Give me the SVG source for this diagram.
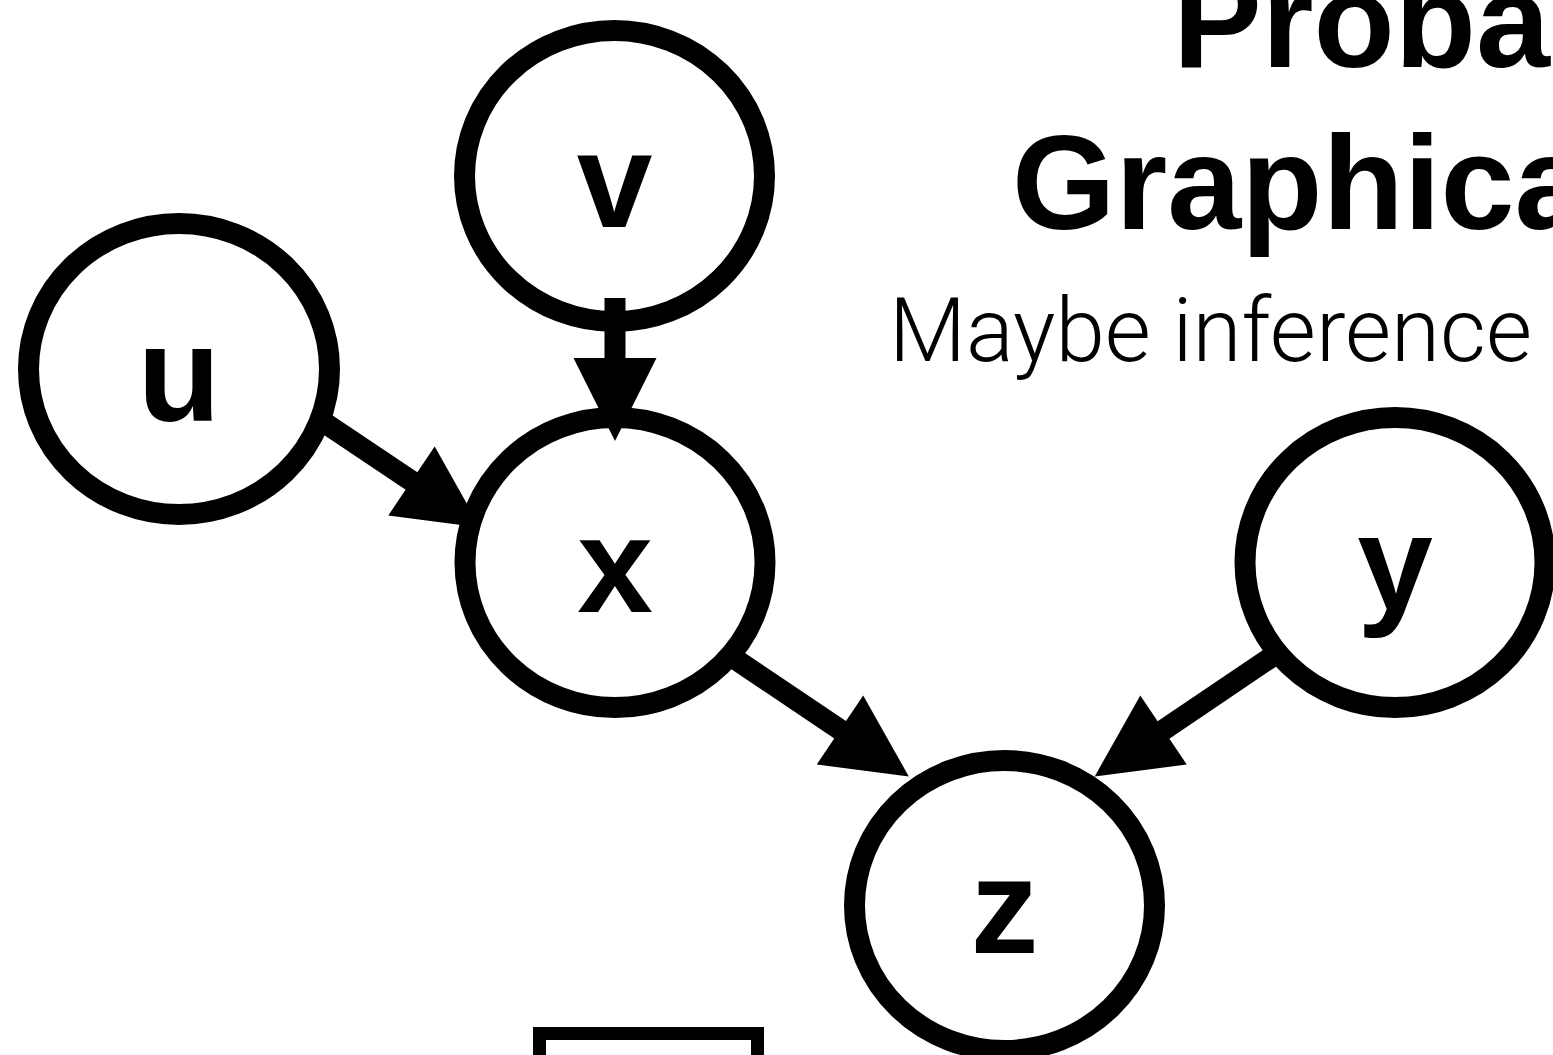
<svg xmlns="http://www.w3.org/2000/svg" width="1553" height="1055" viewBox="0 0 1553 1055">
  <style>
    .node ellipse { fill: #ffffff; stroke: #000000; stroke-width: 21; }
    .node text { font-family: "Liberation Sans", Arial, sans-serif; font-weight: bold; font-size: 136px; text-anchor: middle; fill: #000000; }
    .edge line { stroke: #000000; stroke-width: 21; stroke-linecap: butt; }
    .edge polygon { fill: #000000; }
    .title { font-family: "Liberation Sans", Arial, sans-serif; font-weight: bold; font-size: 133px; fill: #000000; }
    .subtitle { font-family: Roboto, "Liberation Sans", sans-serif; font-weight: 300; font-size: 89px; fill: #000000; }
  </style>
  <rect x="0" y="0" width="1553" height="1055" fill="#ffffff"/>
  <g id="title">
    <text class="title" x="1173" y="67">Probabilistic</text>
    <text class="title" x="1012" y="229">Graphical Models</text>
    <text class="subtitle" x="889" y="361">Maybe inference</text>
  </g>
  <g id="node-v" class="node">
    <ellipse cx="614.5" cy="176" rx="150" ry="145.5"/>
    <text x="614.5" y="227">v</text>
  </g>
  <g id="node-u" class="node">
    <ellipse cx="179" cy="369" rx="150.5" ry="145.5"/>
    <text x="179" y="421">u</text>
  </g>
  <g id="node-x" class="node">
    <ellipse cx="615" cy="562.5" rx="150" ry="145"/>
    <text x="615" y="612">x</text>
  </g>
  <g id="node-y" class="node">
    <ellipse cx="1395" cy="562.5" rx="150" ry="145"/>
    <text x="1395" y="610">y</text>
  </g>
  <g id="node-z" class="node">
    <ellipse cx="1004.5" cy="905.5" rx="150" ry="145"/>
    <text x="1004.5" y="953">z</text>
  </g>
  <g id="frame">
    <rect x="539.5" y="1033.5" width="218" height="100" fill="none" stroke="#000000" stroke-width="13"/>
  </g>
  <g id="connectors" class="edge">
    <line x1="615" y1="298" x2="615" y2="360"/>
    <polygon points="573.5,358 656.5,358 615,441"/>
    <line x1="322" y1="421" x2="413" y2="482"/>
    <polygon points="388.3,515.4 434.7,446.6 480.3,527.4"/>
    <line x1="735" y1="659" x2="842" y2="731"/>
    <polygon points="816.8,764.4 863.2,695.6 908.8,776.4"/>
    <line x1="1276" y1="654" x2="1162" y2="731"/>
    <polygon points="1186.7,764.4 1140.3,695.6 1094.7,776.4"/>
  </g>
</svg>
